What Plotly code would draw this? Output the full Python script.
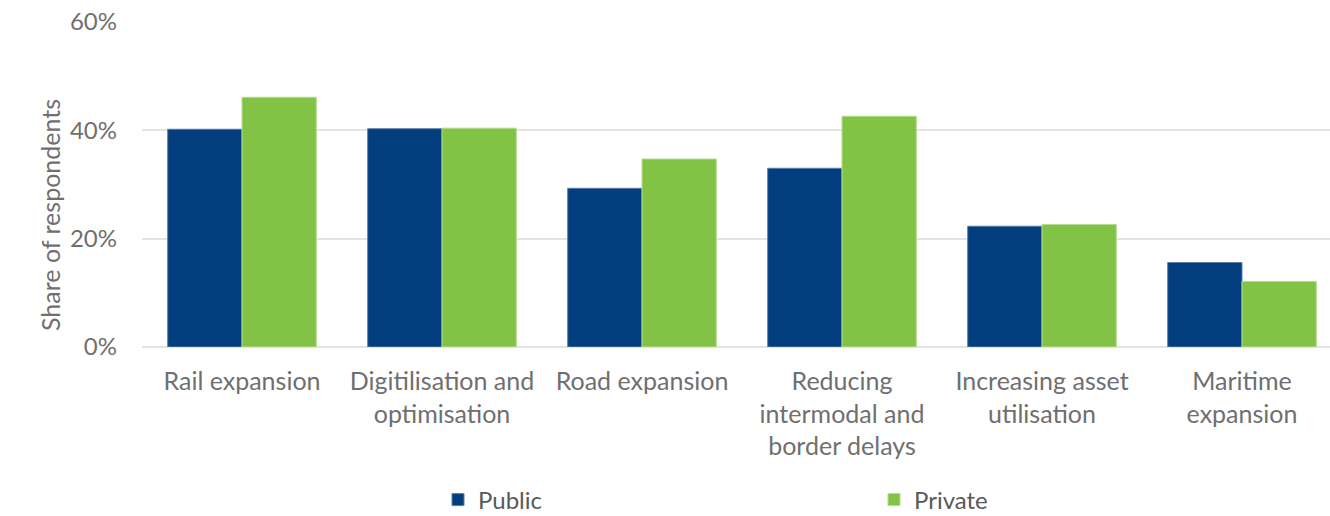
import plotly.graph_objects as go

categories = [
    "Rail expansion",
    "Digitilisation and<br>optimisation",
    "Road expansion",
    "Reducing<br>intermodal and<br>border delays",
    "Increasing asset<br>utilisation",
    "Maritime<br>expansion",
]
public_share = [40.2, 40.3, 29.3, 33.0, 22.3, 15.6]
private_share = [46.1, 40.4, 34.7, 42.6, 22.6, 12.1]

y_ticks = [0, 20, 40, 60]
y_tick_labels = ["0%", "20%", "40%", "60%"]

FONT = "Lato"
GREY = "#6f6f6f"

W, H = 1330, 516
M_L, M_R, M_T, M_B = 142, 0, 22, 169
plot_w = W - M_L - M_R
plot_h = H - M_T - M_B

fig = go.Figure()
fig.add_trace(go.Bar(
    x=categories, y=public_share, name="Public",
    marker=dict(color="#023e7d", line=dict(color="#5a7fa8", width=1)),
))
fig.add_trace(go.Bar(
    x=categories, y=private_share, name="Private",
    marker=dict(color="#82c244", line=dict(color="#b5dc8f", width=1)),
))

fig.update_layout(
    width=W, height=H,
    margin=dict(l=M_L, r=M_R, t=M_T, b=M_B, autoexpand=False),
    paper_bgcolor="white", plot_bgcolor="white",
    barmode="group", bargap=0.257, bargroupgap=0,
    font=dict(family=FONT, size=24, color=GREY),
    showlegend=True,
    legend=dict(
        orientation="h",
        x=(438 - M_L) / plot_w, xanchor="left",
        y=-(500 - (H - M_B)) / plot_h, yanchor="middle",
        entrywidth=391, entrywidthmode="pixels",
        font=dict(family=FONT, size=24, color="#595959"),
        itemclick=False, itemdoubleclick=False,
    ),
    annotations=[dict(
        text="Share of respondents", textangle=-90,
        x=(33 - M_L) / plot_w, xref="paper",
        y=(H - M_B - 215) / plot_h, yref="paper",
        showarrow=False, font=dict(family=FONT, size=25, color=GREY),
    )],
)

fig.update_xaxes(
    range=[-0.5, 5.44], showgrid=False, showline=False, ticks="",
    ticklabelstandoff=17, tickfont=dict(family=FONT, size=25, color=GREY),
)
fig.update_yaxes(
    range=[0, 60], tickvals=y_ticks, ticktext=y_tick_labels,
    showgrid=True, gridcolor="#e4e4e4", gridwidth=1.5,
    zeroline=True, zerolinecolor="#e4e4e4", zerolinewidth=1.5,
    showline=False, ticks="", ticklabelstandoff=24,
    tickfont=dict(family=FONT, size=24, color=GREY),
)

fig.write_html("out.html")
